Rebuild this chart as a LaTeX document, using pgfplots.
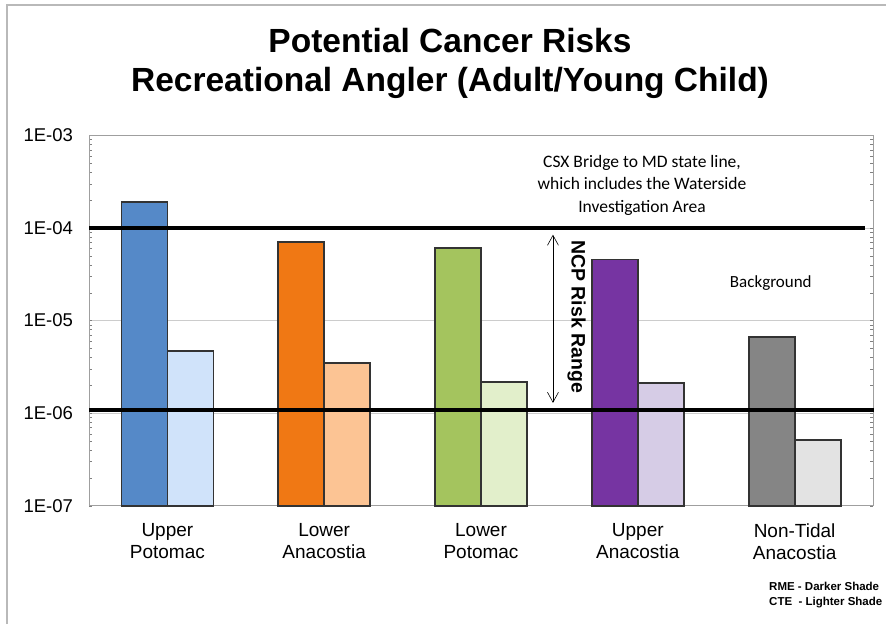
\documentclass[border=0pt]{standalone}
\usepackage{pgfplots}
\pgfplotsset{compat=1.18}
\usepackage{fontspec}
\setmainfont{Liberation Sans}
\newfontfamily\calibri{Carlito}
\usetikzlibrary{arrows.meta}
\definecolor{bd}{HTML}{5589C8}
\definecolor{bl}{HTML}{D0E3FA}
\definecolor{od}{HTML}{F07814}
\definecolor{ol}{HTML}{FCC494}
\definecolor{gd}{HTML}{A4C45E}
\definecolor{gl}{HTML}{E2EFCB}
\definecolor{pd}{HTML}{7634A2}
\definecolor{pl}{HTML}{D6CCE6}
\definecolor{kd}{HTML}{858585}
\definecolor{kl}{HTML}{E3E3E3}
\begin{document}
\begin{tikzpicture}[x=1pt,y=1pt]
\useasboundingbox (0,0) rectangle (886,624);
\draw[gray!55, line width=1.5pt] (7,0) -- (7,619) -- (886,619);
\begin{axis}[
  at={(89pt,118.3pt)}, anchor=south west,
  width=784pt, height=370.4pt, scale only axis,
  ymode=log, ymin=1e-7, ymax=1e-3, log origin=infty,
  xmin=-0.5, xmax=4.5,
  ybar, bar width=46pt,
  ytick={1e-7,1e-6,1e-5,1e-4,1e-3},
  yticklabels={1E-07,1E-06,1E-05,1E-04,1E-03},
  xtick={0,1,2,3,4},
  xticklabels={{Upper\\Potomac},{Lower\\Anacostia},{Lower\\Potomac},{Upper\\Anacostia},{Non-Tidal\\Anacostia}},
  yticklabel style={font=\fontsize{18.5}{20}\selectfont, xshift=-12.5pt},
  xticklabel style={font=\fontsize{19}{22}\selectfont, align=center, yshift=-14pt},
  ymajorgrids, major grid style={gray!40, line width=0.8pt},
  major tick length=0pt,
  axis line style={gray!75, line width=1pt},
  clip=false,
]
% RME (darker) and CTE (lighter) for each reach
\addplot[fill=bd, draw=black!80, line width=1.8pt, bar shift=-23pt] coordinates {(0,1.89e-4)};
\addplot[fill=bl, draw=black!80, line width=1.8pt, bar shift=23pt] coordinates {(0,4.7e-6)};
\addplot[fill=od, draw=black!80, line width=1.8pt, bar shift=-23pt] coordinates {(1,7.0e-5)};
\addplot[fill=ol, draw=black!80, line width=1.8pt, bar shift=23pt] coordinates {(1,3.45e-6)};
\addplot[fill=gd, draw=black!80, line width=1.8pt, bar shift=-23pt] coordinates {(2,6.05e-5)};
\addplot[fill=gl, draw=black!80, line width=1.8pt, bar shift=23pt] coordinates {(2,2.16e-6)};
\addplot[fill=pd, draw=black!80, line width=1.8pt, bar shift=-23pt] coordinates {(3,4.55e-5)};
\addplot[fill=pl, draw=black!80, line width=1.8pt, bar shift=23pt] coordinates {(3,2.1e-6)};
\addplot[fill=kd, draw=black!80, line width=1.8pt, bar shift=-23pt] coordinates {(4,6.6e-6)};
\addplot[fill=kl, draw=black!80, line width=1.8pt, bar shift=23pt] coordinates {(4,5.1e-7)};
% NCP risk range limits
\addplot[sharp plot, black, line width=4pt, forget plot] coordinates {(-0.5,1e-4) (4.449,1e-4)};
\addplot[sharp plot, black, line width=4pt, forget plot] coordinates {(-0.5,1.08e-6) (4.507,1.08e-6)};
\draw[{Straight Barb[length=10pt,width=11pt]}-{Straight Barb[length=10pt,width=11pt]}, line width=0.6pt]
  (axis cs:2.459,8.44e-5) -- (axis cs:2.459,1.29e-6);
\end{axis}
\node[anchor=base, font=\fontsize{33.5}{36}\selectfont\bfseries] at (450,571) {Potential Cancer Risks};
\node[anchor=base, font=\fontsize{33.5}{36}\selectfont\bfseries] at (450,532.3) {Recreational Angler (Adult/Young Child)};
\node[anchor=base, font=\calibri\fontsize{17.5}{20}\selectfont] at (642,456.7) {CSX Bridge to MD state line,};
\node[anchor=base, font=\calibri\fontsize{17.5}{20}\selectfont] at (642,434) {which includes the Waterside};
\node[anchor=base, font=\calibri\fontsize{17.5}{20}\selectfont] at (642,411.7) {Investigation Area};
\node[anchor=base, font=\calibri\fontsize{17}{20}\selectfont] at (770.8,336.7) {Background};
\node[rotate=-90, font=\fontsize{19.5}{22}\selectfont\bfseries] at (576.7,307.5) {NCP Risk Range};
\node[anchor=base west, inner sep=0pt, font=\fontsize{11.5}{13}\selectfont\bfseries] at (769,34) {RME - Darker Shade};
\node[anchor=base west, inner sep=0pt, font=\fontsize{11.5}{13}\selectfont\bfseries] at (769,19) {CTE\ \ - Lighter Shade};
\end{tikzpicture}
\end{document}
